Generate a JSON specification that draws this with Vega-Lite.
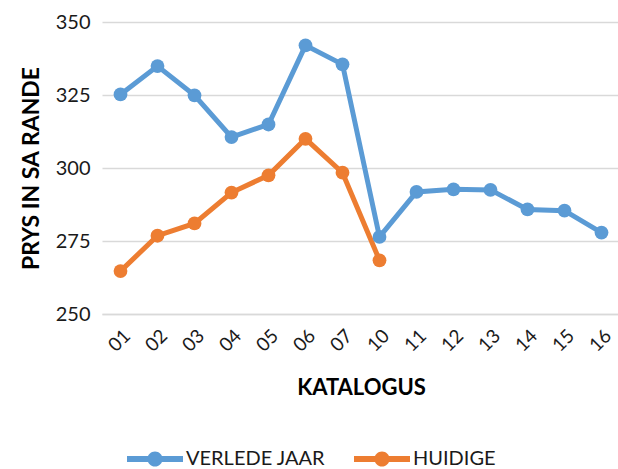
{
  "$schema": "https://vega.github.io/schema/vega-lite/v6.json",
  "width": 518,
  "height": 292,
  "autosize": {"type": "none"},
  "padding": {"left": 102, "top": 22, "right": 0, "bottom": 155},
  "config": {
    "font": "Lato",
    "view": {"stroke": null},
    "axis": {"labelColor": "#1a1a1a", "titleColor": "#000000"}
  },
  "data": {
    "values": [
      {"cat": "01", "series": "VERLEDE JAAR", "value": 325.2},
      {"cat": "02", "series": "VERLEDE JAAR", "value": 334.9},
      {"cat": "03", "series": "VERLEDE JAAR", "value": 324.9},
      {"cat": "04", "series": "VERLEDE JAAR", "value": 310.6},
      {"cat": "05", "series": "VERLEDE JAAR", "value": 314.9},
      {"cat": "06", "series": "VERLEDE JAAR", "value": 342.0},
      {"cat": "07", "series": "VERLEDE JAAR", "value": 335.5},
      {"cat": "10", "series": "VERLEDE JAAR", "value": 276.4},
      {"cat": "11", "series": "VERLEDE JAAR", "value": 291.8},
      {"cat": "12", "series": "VERLEDE JAAR", "value": 292.7},
      {"cat": "13", "series": "VERLEDE JAAR", "value": 292.5},
      {"cat": "14", "series": "VERLEDE JAAR", "value": 285.8},
      {"cat": "15", "series": "VERLEDE JAAR", "value": 285.4},
      {"cat": "16", "series": "VERLEDE JAAR", "value": 277.9},
      {"cat": "01", "series": "HUIDIGE", "value": 264.7},
      {"cat": "02", "series": "HUIDIGE", "value": 276.8},
      {"cat": "03", "series": "HUIDIGE", "value": 281.0},
      {"cat": "04", "series": "HUIDIGE", "value": 291.6},
      {"cat": "05", "series": "HUIDIGE", "value": 297.5},
      {"cat": "06", "series": "HUIDIGE", "value": 310.0},
      {"cat": "07", "series": "HUIDIGE", "value": 298.4},
      {"cat": "10", "series": "HUIDIGE", "value": 268.4}
    ]
  },
  "encoding": {
    "x": {
      "field": "cat",
      "type": "ordinal",
      "scale": {"type": "point", "padding": 0.5},
      "axis": {
        "title": "KATALOGUS",
        "titleFontSize": 22,
        "titleFontWeight": "bold",
        "titlePadding": 22,
        "labelAngle": -45,
        "labelFontSize": 19,
        "labelPadding": 12,
        "ticks": false,
        "grid": false,
        "domainColor": "#d9d9d9",
        "domainWidth": 1.5
      }
    },
    "y": {
      "field": "value",
      "type": "quantitative",
      "scale": {"domain": [250, 350], "nice": false, "zero": false},
      "axis": {
        "values": [250, 275, 300, 325, 350],
        "title": "PRYS IN SA RANDE",
        "titleFontSize": 23,
        "titleFontWeight": "bold",
        "titlePadding": 12,
        "labelFontSize": 20,
        "labelPadding": 12,
        "ticks": false,
        "domain": false,
        "gridColor": "#d9d9d9",
        "gridWidth": 1.5
      }
    },
    "color": {
      "field": "series",
      "type": "nominal",
      "scale": {"domain": ["VERLEDE JAAR", "HUIDIGE"], "range": ["#5B9BD5", "#ED7D31"]},
      "legend": {
        "title": null,
        "orient": "none",
        "legendX": 25,
        "legendY": 409,
        "direction": "horizontal",
        "symbolType": "M-1,-0.107L1,-0.107L1,0.107L-1,0.107Z M0.27,0A0.27,0.27,0,1,1,-0.27,0A0.27,0.27,0,1,1,0.27,0Z",
        "symbolSize": 3136,
        "symbolStrokeWidth": 0,
        "labelFontSize": 20,
        "labelColor": "#1a1a1a",
        "labelOffset": 3,
        "columnPadding": 28
      }
    }
  },
  "layer": [
    {"mark": {"type": "line", "strokeWidth": 5}},
    {"mark": {"type": "point", "filled": true, "size": 190, "opacity": 1}}
  ]
}
